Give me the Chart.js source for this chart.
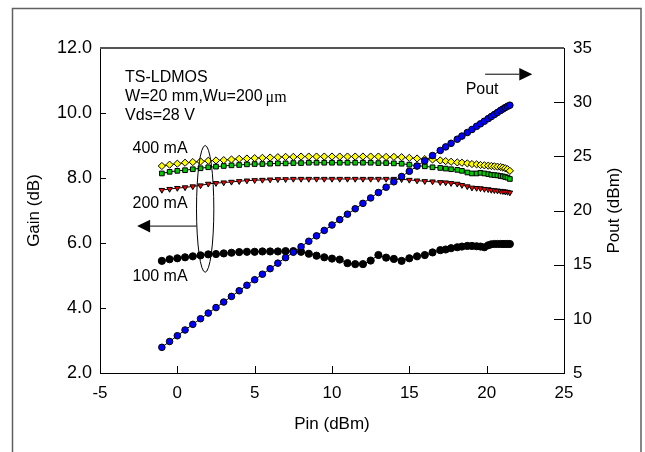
<!DOCTYPE html>
<html>
<head>
<meta charset="utf-8">
<title>TS-LDMOS gain / Pout</title>
<script src="https://cdn.jsdelivr.net/npm/chart.js@4.4.1/dist/chart.umd.min.js"></script>
<style>
  html, body { margin: 0; padding: 0; background: #fff; }
  #wrap { position: relative; width: 645px; height: 452px; }
</style>
</head>
<body>
<div id="wrap"><canvas id="gain-chart" width="645" height="452"></canvas></div>
<script>
// input power sweep (dBm), shared by all bias points
var pin = [-1, -0.5, 0, 0.5, 1, 1.5, 2, 2.5, 3, 3.5, 4, 4.5, 5, 5.5, 6, 6.5, 7, 7.5, 8, 8.5,
  9, 9.5, 10, 10.5, 11, 11.5, 12, 12.5, 13, 13.5, 14, 14.5, 15, 15.5, 16, 16.5, 17, 17.35, 17.7, 18.1,
  18.4, 18.75, 19.05, 19.35, 19.6, 19.85, 20.1, 20.3, 20.5, 20.7, 20.9, 21.05, 21.2, 21.35, 21.5];

// output power (dBm), right axis
var pout = [7.37, 7.91, 8.44, 8.97, 9.49, 10.01, 10.53, 11.04, 11.55, 12.07, 12.59, 13.10, 13.61, 14.12, 14.63, 15.14, 15.65, 16.15, 16.66, 17.16,
  17.66, 18.16, 18.66, 19.16, 19.66, 20.16, 20.66, 21.16, 21.66, 22.15, 22.65, 23.14, 23.62, 24.10, 24.58, 25.07, 25.54, 25.87, 26.20, 26.58,
  26.87, 27.20, 27.48, 27.77, 28.00, 28.24, 28.48, 28.67, 28.86, 29.05, 29.24, 29.37, 29.50, 29.62, 29.72];

// gain (dB) per quiescent current
var gain400 = [8.37, 8.41, 8.44, 8.47, 8.49, 8.51, 8.53, 8.54, 8.55, 8.57, 8.59, 8.60, 8.61, 8.62, 8.63, 8.64, 8.65, 8.65, 8.66, 8.66,
  8.66, 8.66, 8.66, 8.66, 8.66, 8.66, 8.66, 8.66, 8.66, 8.65, 8.65, 8.64, 8.62, 8.60, 8.58, 8.57, 8.54, 8.52, 8.50, 8.48,
  8.47, 8.45, 8.43, 8.42, 8.40, 8.39, 8.38, 8.37, 8.36, 8.35, 8.34, 8.32, 8.30, 8.27, 8.22];
var gain300 = [8.14, 8.19, 8.22, 8.24, 8.27, 8.30, 8.33, 8.35, 8.37, 8.39, 8.40, 8.42, 8.43, 8.43, 8.44, 8.45, 8.45, 8.46, 8.46, 8.47,
  8.47, 8.47, 8.47, 8.47, 8.47, 8.47, 8.47, 8.47, 8.46, 8.46, 8.45, 8.44, 8.41, 8.38, 8.36, 8.33, 8.31, 8.29, 8.27, 8.25,
  8.22, 8.17, 8.14, 8.14, 8.16, 8.14, 8.12, 8.10, 8.09, 8.08, 8.06, 8.05, 8.03, 8.01, 7.97];
var gain200 = [7.63, 7.66, 7.69, 7.71, 7.74, 7.77, 7.82, 7.84, 7.86, 7.88, 7.90, 7.92, 7.93, 7.94, 7.95, 7.96, 7.96, 7.97, 7.97, 7.97,
  7.97, 7.97, 7.97, 7.97, 7.97, 7.97, 7.97, 7.97, 7.97, 7.97, 7.97, 7.96, 7.94, 7.92, 7.90, 7.89, 7.87, 7.86, 7.84, 7.82,
  7.78, 7.74, 7.70, 7.69, 7.68, 7.66, 7.65, 7.63, 7.62, 7.61, 7.60, 7.59, 7.58, 7.57, 7.55];
var gain100 = [5.45, 5.50, 5.53, 5.56, 5.59, 5.62, 5.65, 5.66, 5.68, 5.70, 5.72, 5.73, 5.73, 5.74, 5.74, 5.74, 5.75, 5.75, 5.73, 5.67,
  5.61, 5.56, 5.52, 5.49, 5.38, 5.35, 5.35, 5.46, 5.63, 5.55, 5.51, 5.45, 5.53, 5.59, 5.63, 5.71, 5.78, 5.80, 5.84, 5.87,
  5.89, 5.91, 5.91, 5.90, 5.89, 5.87, 5.93, 5.96, 5.97, 5.97, 5.97, 5.97, 5.97, 5.97, 5.97];

var pinTicks = [-5, 0, 5, 10, 15, 20, 25];
var gainTicks = [2, 4, 6, 8, 10, 12];
var poutTicks = [5, 10, 15, 20, 25, 30, 35];

var FONT = '"Liberation Sans", Arial, sans-serif';

function pts(ys) {
  return pin.map(function(p, i) { return { x: p, y: ys[i] }; });
}

function series(ys, style, fill, radius, extra) {
  var ds = {
    data: pts(ys),
    showLine: true,
    borderColor: '#000',
    borderWidth: 1,
    pointStyle: style,
    pointRadius: radius,
    pointBackgroundColor: fill,
    pointBorderColor: '#000',
    pointBorderWidth: 1
  };
  for (var k in extra) ds[k] = extra[k];
  return ds;
}

function fixedTicks(list) {
  return function(scale) {
    scale.ticks = list.map(function(v) { return { value: v }; });
  };
}

function arrow(ctx, x1, y1, x2, y2) {
  var ang = Math.atan2(y2 - y1, x2 - x1), len = 13, half = 6.3;
  var bx = x2 - Math.cos(ang) * len, by = y2 - Math.sin(ang) * len;
  ctx.beginPath();
  ctx.moveTo(x1, y1);
  ctx.lineTo(bx, by);
  ctx.stroke();
  ctx.beginPath();
  ctx.moveTo(x2, y2);
  ctx.lineTo(bx + Math.sin(ang) * half, by - Math.cos(ang) * half);
  ctx.lineTo(bx - Math.sin(ang) * half, by + Math.cos(ang) * half);
  ctx.closePath();
  ctx.fill();
}

// frame, inward ticks, ellipse, arrows and the text notes
var decor = {
  id: 'decor',
  afterDraw: function(chart) {
    var ctx = chart.ctx, a = chart.chartArea;
    var sx = chart.scales.x, sy = chart.scales.y, sp = chart.scales.y2;
    ctx.save();

    ctx.strokeStyle = '#606060';
    ctx.lineWidth = 1.5;
    ctx.beginPath();
    ctx.moveTo(12.5, 452); ctx.lineTo(12.5, 8.5); ctx.lineTo(641, 8.5); ctx.lineTo(641, 452);
    ctx.stroke();

    ctx.strokeStyle = '#555';
    ctx.lineWidth = 2;
    ctx.beginPath();
    ctx.moveTo(a.left, a.top); ctx.lineTo(a.right, a.top);
    ctx.stroke();

    ctx.strokeStyle = '#000';
    ctx.lineWidth = 1;
    ctx.beginPath();
    sx.ticks.forEach(function(t) {
      var px = Math.round(sx.getPixelForValue(t.value)) + 0.5;
      if (px > a.left + 2 && px < a.right - 2) { ctx.moveTo(px, a.bottom); ctx.lineTo(px, a.bottom - 7); }
    });
    sy.ticks.forEach(function(t) {
      var py = Math.round(sy.getPixelForValue(t.value)) + 0.5;
      if (py > a.top + 2 && py < a.bottom - 2) { ctx.moveTo(a.left, py); ctx.lineTo(a.left + 6, py); }
    });
    sp.ticks.forEach(function(t) {
      var py = Math.round(sp.getPixelForValue(t.value)) + 0.5;
      if (py > a.top + 2 && py < a.bottom - 2) { ctx.moveTo(a.right, py); ctx.lineTo(a.right - 10, py); }
    });
    ctx.stroke();

    // bias-current ellipse and gain-axis arrow
    var cx = sx.getPixelForValue(1.8), cy = sy.getPixelForValue(7.05);
    var rx = sx.getPixelForValue(2.36) - cx, ry = cy - sy.getPixelForValue(9.0);
    ctx.beginPath();
    ctx.ellipse(cx, cy, rx, ry, 0, 0, Math.PI * 2);
    ctx.stroke();
    ctx.fillStyle = '#000';
    var ay = sy.getPixelForValue(6.52);
    arrow(ctx, cx - rx * 0.99, ay, sx.getPixelForValue(-2.6), ay);

    var py2 = sp.getPixelForValue(32.58);
    arrow(ctx, sx.getPixelForValue(19.9), py2, sx.getPixelForValue(22.95), py2);

    ctx.font = '16px ' + FONT;
    ctx.textBaseline = 'middle';
    ctx.textAlign = 'left';
    var tx = sx.getPixelForValue(-3.38);
    ctx.fillText('TS-LDMOS', tx, sy.getPixelForValue(11.08));
    var l2 = 'W=20 mm,Wu=200';
    var l2y = sy.getPixelForValue(10.5);
    ctx.fillText(l2, tx, l2y);
    var w2 = ctx.measureText(l2).width;
    ctx.font = '16px "Liberation Serif", "Times New Roman", serif';
    ctx.fillText('\u03bcm', tx + w2 + 3, l2y + 1);
    ctx.font = '16px ' + FONT;
    ctx.fillText('Vds=28 V', tx, sy.getPixelForValue(9.92));

    var lx = sx.getPixelForValue(-2.9);
    ctx.fillText('400 mA', lx, sy.getPixelForValue(8.89));
    ctx.fillText('200 mA', lx, sy.getPixelForValue(7.2));
    ctx.fillText('100 mA', lx, sy.getPixelForValue(4.98));
    ctx.fillText('Pout', sx.getPixelForValue(18.64), sp.getPixelForValue(31.2));

    // right axis title reads bottom-to-top like the left one
    ctx.font = '17px ' + FONT;
    ctx.textAlign = 'center';
    ctx.translate(614, (a.top + a.bottom) / 2);
    ctx.rotate(-Math.PI / 2);
    ctx.fillText('Pout (dBm)', 0, 0);
    ctx.restore();
  }
};

var tickFont = { family: FONT, size: 17 };
var gainTickFont = { family: FONT, size: 18 };

new Chart(document.getElementById('gain-chart'), {
  type: 'scatter',
  data: {
    datasets: [
      series(pout, 'circle', '#0000ff', 3.3, { yAxisID: 'y2', order: 0 }),
      series(gain400, 'rectRot', '#ffff00', 3.6, { yAxisID: 'y', order: 1 }),
      series(gain300, 'rect', '#00cc00', 3.3, { yAxisID: 'y', order: 2 }),
      series(gain200, 'triangle', '#ff0000', 3.2, { yAxisID: 'y', order: 3, pointRotation: 180 }),
      series(gain100, 'circle', '#000000', 3.6, { yAxisID: 'y', order: 4 })
    ]
  },
  options: {
    responsive: false,
    animation: false,
    layout: { padding: { top: 48, left: 0, right: 0, bottom: 0 } },
    plugins: { legend: { display: false }, tooltip: { enabled: false } },
    scales: {
      x: {
        type: 'linear',
        min: -5, max: 25,
        afterBuildTicks: fixedTicks(pinTicks),
        afterFit: function(s) { s.height = 79; },
        grid: { drawOnChartArea: false, drawTicks: false },
        border: { color: '#000', width: 1 },
        ticks: { color: '#000', font: tickFont, padding: 10 },
        title: { display: true, text: 'Pin (dBm)', color: '#000', font: tickFont, padding: { bottom: 17 } }
      },
      y: {
        position: 'left',
        min: 2, max: 12,
        afterBuildTicks: fixedTicks(gainTicks),
        afterFit: function(s) { s.width = 100; },
        grid: { drawOnChartArea: false, drawTicks: false },
        border: { color: '#000', width: 1 },
        ticks: { color: '#000', font: gainTickFont, padding: 8, callback: function(v) { return v.toFixed(1); } },
        title: { display: true, text: 'Gain (dB)', color: '#000', font: tickFont, padding: { top: 24 } }
      },
      y2: {
        position: 'right',
        min: 5, max: 35,
        afterBuildTicks: fixedTicks(poutTicks),
        afterFit: function(s) { s.width = 81; },
        grid: { drawOnChartArea: false, drawTicks: false },
        border: { color: '#000', width: 1 },
        ticks: { color: '#000', font: tickFont, padding: 9 }
      }
    }
  },
  plugins: [decor]
});
</script>
</body>
</html>
